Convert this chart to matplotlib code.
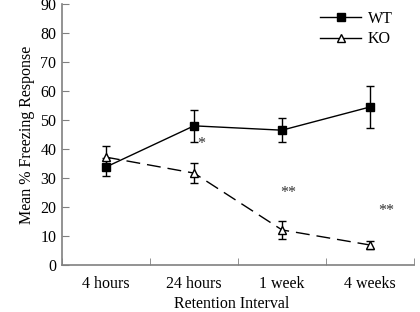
import matplotlib
matplotlib.use("Agg")
import matplotlib.pyplot as plt
from matplotlib.lines import Line2D
import numpy as np

plt.rcParams['font.family'] = ['Liberation Serif', 'DejaVu Serif']

categories = ["4 hours", "24 hours", "1 week", "4 weeks"]
wt_mean = [33.8, 48.0, 46.5, 54.5]
wt_err = [3.2, 5.5, 4.2, 7.3]
ko_mean = [37.2, 31.7, 12.1, 6.9]
ko_err = [3.9, 3.5, 3.0, 1.5]
stars = ["*", "**", "**"]
star_x = [1.08, 2.07, 3.19]
star_y = [41.6, 25.0, 18.6]

FS = 11.5

fig = plt.figure(figsize=(4.2, 3.12), dpi=100)
ax = fig.add_axes([0.1476, 0.1506, 0.8381, 0.8364])
x = np.arange(len(categories))

ax.errorbar(x, wt_mean, yerr=wt_err, color='black', marker='s', markersize=5.5,
            markerfacecolor='black', linewidth=1, elinewidth=1, capsize=3,
            capthick=1)
ax.errorbar(x, ko_mean, yerr=ko_err, color='black', marker='^', markersize=5.5,
            markerfacecolor='white', linewidth=1, elinewidth=1, capsize=3,
            capthick=1, dashes=(10, 5))

for s, sx, sy in zip(stars, star_x, star_y):
    ax.text(sx, sy, s, ha='center', va='center', fontsize=FS, color='#333333')

ax.set_xlim(-0.5, 3.5)
ax.set_ylim(0, 90)
ax.set_yticks(np.arange(0, 91, 10))
ax.set_xticks(x)
ax.set_xticklabels(categories)
ax.set_xticks(np.arange(-0.5, 3.6, 1), minor=True)
ax.tick_params(axis='x', which='major', length=0, pad=8, labelsize=FS)
ax.tick_params(axis='x', which='minor', direction='in', length=5, color='#808080')
ax.tick_params(axis='y', direction='in', length=5, color='#808080', labelsize=FS, pad=4)

for sp in ['top', 'right']:
    ax.spines[sp].set_visible(False)
for sp in ['left', 'bottom']:
    ax.spines[sp].set_color('#808080')
    ax.spines[sp].set_linewidth(1.2)

ax.set_xlabel("Retention Interval", fontsize=FS, labelpad=3)
ax.xaxis.set_label_coords(0.482, -0.118)
ax.set_ylabel("Mean % Freezing Response", fontsize=FS, labelpad=4)

handles = [
    Line2D([], [], color='black', marker='s', markersize=5.5, markerfacecolor='black', linewidth=1),
    Line2D([], [], color='black', marker='^', markersize=5.5, markerfacecolor='white', linewidth=1),
]
ax.legend(handles, ['WT', 'KO'], loc='upper right', bbox_to_anchor=(0.98, 1.03),
          frameon=False, fontsize=FS, handlelength=2.6, handletextpad=0.4,
          labelspacing=0.3)

fig.savefig("out.png", dpi=100)
